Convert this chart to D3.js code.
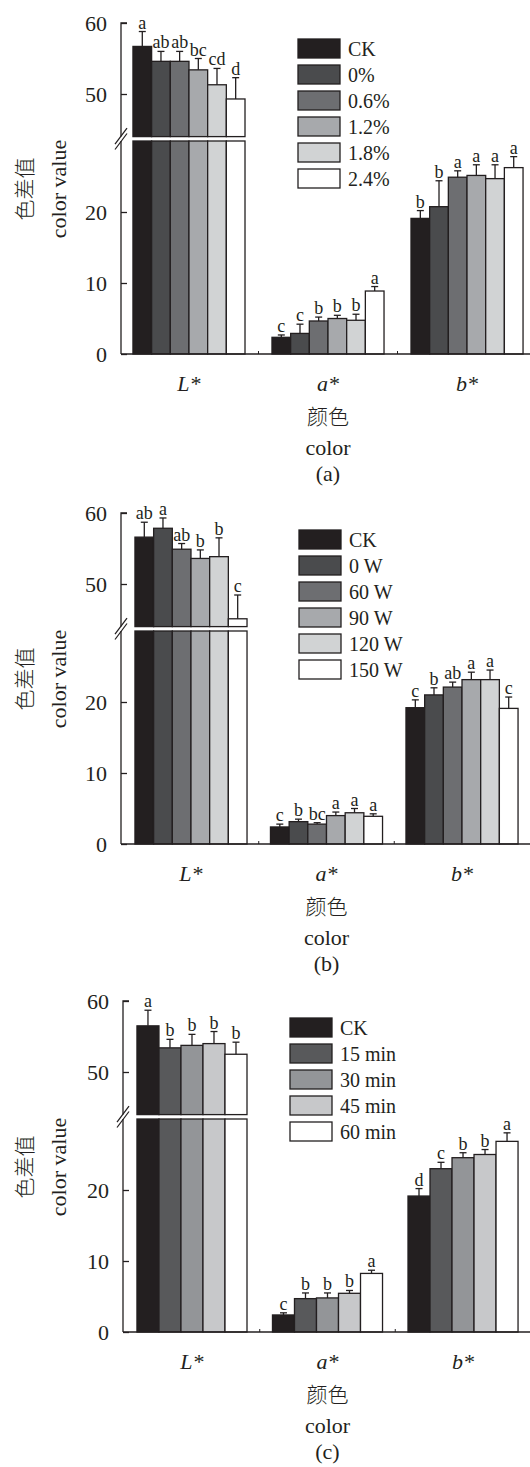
<!DOCTYPE html>
<html>
<head>
<meta charset="utf-8">
<script src="https://cdn.jsdelivr.net/npm/d3@7"></script>
<style>
  html, body { margin: 0; padding: 0; background: #fff; }
  svg { display: block; }
  text { font-family: "Liberation Serif", "Times New Roman", "DejaVu Serif", serif; fill: #231f20; }
  text.cjk { font-family: "Noto Sans CJK SC", "Noto Sans CJK TC", sans-serif; }
</style>
</head>
<body>
<svg id="chart" width="530" height="1467"></svg>
<script>
// ---------------- data ----------------
const groups = ["L*", "a*", "b*"];
const upperTicks = [50, 60];
const lowerTicks = [0, 10, 20];

const seriesA = ["CK", "0%", "0.6%", "1.2%", "1.8%", "2.4%"];
const valuesA = [[56.7, 54.6, 54.6, 53.4, 51.3, 49.3], [2.35, 2.9, 4.65, 5.0, 4.75, 8.87], [19.1, 20.75, 24.9, 25.15, 24.7, 26.25]];
const errorsA = [[2.1, 1.4, 1.4, 1.6, 2.3, 3.0], [0.33, 1.3, 0.55, 0.45, 0.85, 0.63], [1.1, 3.65, 0.9, 1.5, 1.95, 1.55]];
const lettersA = [["a", "ab", "ab", "bc", "cd", "d"], ["c", "c", "b", "b", "b", "a"], ["b", "b", "a", "a", "a", "a"]];

const seriesB = ["CK", "0 W", "60 W", "90 W", "120 W", "150 W"];
const valuesB = [[56.6, 57.85, 54.9, 53.6, 53.85, 45.1], [2.4, 3.15, 2.8, 4.0, 4.4, 3.9], [19.2, 21.0, 22.1, 23.15, 23.15, 19.1]];
const errorsB = [[2.1, 1.45, 0.8, 1.2, 2.65, 3.35], [0.4, 0.35, 0.2, 0.5, 0.6, 0.35], [1.1, 1.0, 0.7, 1.05, 1.35, 1.6]];
const lettersB = [["ab", "a", "ab", "b", "b", "c"], ["c", "b", "bc", "a", "a", "a"], ["c", "b", "ab", "a", "a", "c"]];

const seriesC = ["CK", "15 min", "30 min", "45 min", "60 min"];
const valuesC = [[56.5, 53.4, 53.75, 54.0, 52.5], [2.4, 4.7, 4.8, 5.45, 8.25], [19.15, 23.0, 24.55, 25.0, 26.85]];
const errorsC = [[2.2, 1.2, 1.55, 1.7, 1.7], [0.3, 0.8, 0.7, 0.4, 0.45], [1.05, 0.9, 0.7, 0.7, 1.2]];
const lettersC = [["a", "b", "b", "b", "b"], ["c", "b", "b", "b", "a"], ["d", "c", "b", "b", "a"]];

const colorsAB = ["#231f20", "#4a4b4d", "#6d6e71", "#a7a9ac", "#d1d3d4", "#ffffff"];
const colorsC = ["#231f20", "#58595b", "#939598", "#c7c8ca", "#ffffff"];

const panelLabels = ["(a)", "(b)", "(c)"];

// ---------------- drawing ----------------
const svg = d3.select("#chart");
const INK = "#231f20";

function drawPanel(cfg) {
  const T = cfg.top;
  const ax = cfg.axisX;
  const g = svg.append("g");

  const yUp = d3.scaleLinear().domain([44, 60]).range([T + 113.6, T]);
  const yLo = d3.scaleLinear().domain([0, 30]).range([T + 331, T + 118]);

  const x0 = d3.scaleBand().domain(groups).range([ax, cfg.right])
    .paddingInner(cfg.pi).paddingOuter(cfg.po);
  const x1 = d3.scaleBand().domain(cfg.series).range([0, x0.bandwidth()]);
  const color = d3.scaleOrdinal().domain(cfg.series).range(cfg.colors);

  // bars
  groups.forEach((grp, gi) => {
    cfg.series.forEach((s, si) => {
      const v = cfg.values[gi][si];
      const e = cfg.errors[gi][si];
      const bx = x0(grp) + x1(s);
      const bw = x1.bandwidth();
      const lTop = Math.min(v, 30);
      g.append("rect").attr("x", bx).attr("width", bw)
        .attr("y", yLo(lTop)).attr("height", yLo(0) - yLo(lTop))
        .attr("fill", color(s)).attr("stroke", INK).attr("stroke-width", 1.3);
      let topY, errY;
      if (v > 44) {
        g.append("rect").attr("x", bx).attr("width", bw)
          .attr("y", yUp(v)).attr("height", yUp(44) - yUp(v))
          .attr("fill", color(s)).attr("stroke", INK).attr("stroke-width", 1.3);
        topY = yUp(v); errY = yUp(v + e);
      } else {
        topY = yLo(v); errY = yLo(v + e);
      }
      const cx = bx + bw / 2;
      g.append("line").attr("x1", cx).attr("x2", cx).attr("y1", topY).attr("y2", errY)
        .attr("stroke", INK).attr("stroke-width", 1.3);
      g.append("line").attr("x1", cx - 3.5).attr("x2", cx + 3.5).attr("y1", errY).attr("y2", errY)
        .attr("stroke", INK).attr("stroke-width", 1.3);
      g.append("text").attr("x", cx).attr("y", errY - 3)
        .attr("text-anchor", "middle").attr("font-size", 18)
        .text(cfg.letters[gi][si]);
    });
  });

  // y axes (ticks pointing inside)
  const upAxis = g.append("g").attr("transform", `translate(${ax},0)`)
    .call(d3.axisRight(yUp).tickValues(upperTicks).tickSize(6).tickFormat(""));
  const loAxis = g.append("g").attr("transform", `translate(${ax},0)`)
    .call(d3.axisRight(yLo).tickValues(lowerTicks).tickSize(6).tickFormat(""));
  [upAxis, loAxis].forEach(a => {
    a.select(".domain").attr("stroke", INK).attr("stroke-width", 1.3);
    a.selectAll(".tick line").attr("stroke", INK).attr("stroke-width", 1.3);
  });
  upAxis.select(".domain").attr("d", `M0,${yUp(44)}V${yUp(60)}h6`);
  loAxis.select(".domain").attr("d", `M0,${yLo(30)}V${yLo(0)}`);

  // tick labels
  upperTicks.forEach(t => {
    g.append("text").attr("x", ax - 14).attr("y", yUp(t)).attr("dy", "0.35em")
      .attr("text-anchor", "end").attr("font-size", 22).text(t);
  });
  lowerTicks.forEach(t => {
    g.append("text").attr("x", ax - 14).attr("y", yLo(t)).attr("dy", "0.35em")
      .attr("text-anchor", "end").attr("font-size", 22).text(t);
  });

  // axis break marks
  [yUp(44) - 0.5, yLo(30) + 0.5].forEach(yy => {
    g.append("line").attr("x1", ax - 6).attr("x2", ax + 6)
      .attr("y1", yy + 8).attr("y2", yy - 8)
      .attr("stroke", INK).attr("stroke-width", 1.2);
  });

  // x axis line
  g.append("line").attr("x1", ax).attr("x2", 530).attr("y1", yLo(0)).attr("y2", yLo(0))
    .attr("stroke", INK).attr("stroke-width", 1.5);
  for (let i = 0; i < groups.length - 1; i++) {
    const mx = (x0(groups[i]) + x0.bandwidth() + x0(groups[i + 1])) / 2;
    g.append("line").attr("x1", mx).attr("x2", mx).attr("y1", yLo(0)).attr("y2", yLo(0) - 3)
      .attr("stroke", INK).attr("stroke-width", 1);
  }

  // x labels
  groups.forEach(grp => {
    g.append("text").attr("x", x0(grp) + x0.bandwidth() / 2).attr("y", T + 368)
      .attr("text-anchor", "middle").attr("font-size", 22).attr("font-style", "italic")
      .text(grp);
  });
  const mid = x0("a*") + x0.bandwidth() / 2;
  g.append("text").attr("class", "cjk").attr("x", mid).attr("y", T + 394).attr("dy", "0.35em")
    .attr("text-anchor", "middle").attr("font-size", 21).attr("font-weight", 300).text("颜色");
  g.append("text").attr("x", mid).attr("y", T + 432)
    .attr("text-anchor", "middle").attr("font-size", 22).text("color");
  g.append("text").attr("x", mid).attr("y", T + 458)
    .attr("text-anchor", "middle").attr("font-size", 22).text(cfg.label);

  // y title
  g.append("text").attr("class", "cjk")
    .attr("transform", `translate(25,${T + 166}) rotate(-90)`)
    .attr("text-anchor", "middle").attr("dy", "0.35em").attr("font-size", 21).attr("font-weight", 300)
    .text("色差值");
  g.append("text")
    .attr("transform", `translate(58,${T + 166}) rotate(-90)`)
    .attr("text-anchor", "middle").attr("dy", "0.35em").attr("font-size", 22)
    .text("color value");

  // legend
  const lg = g.append("g");
  cfg.series.forEach((s, i) => {
    const ly = T + cfg.legY + i * 26;
    lg.append("rect").attr("x", cfg.legX).attr("y", ly).attr("width", 42).attr("height", 19)
      .attr("fill", color(s)).attr("stroke", INK).attr("stroke-width", 1.3);
    lg.append("text").attr("x", cfg.legX + 50).attr("y", ly + 9.5).attr("dy", "0.35em")
      .attr("font-size", 20).text(s);
  });
}

drawPanel({ top: 23, axisX: 121, right: 535, pi: 0.194, po: 0.086,
  series: seriesA, values: valuesA, errors: errorsA, letters: lettersA, colors: colorsAB,
  label: panelLabels[0], legX: 298, legY: 16 });
drawPanel({ top: 513, axisX: 121, right: 532, pi: 0.173, po: 0.103,
  series: seriesB, values: valuesB, errors: errorsB, letters: lettersB, colors: colorsAB,
  label: panelLabels[1], legX: 299, legY: 17 });
drawPanel({ top: 1001, axisX: 123, right: 532, pi: 0.188, po: 0.103,
  series: seriesC, values: valuesC, errors: errorsC, letters: lettersC, colors: colorsC,
  label: panelLabels[2], legX: 290, legY: 17 });
</script>
</body>
</html>
